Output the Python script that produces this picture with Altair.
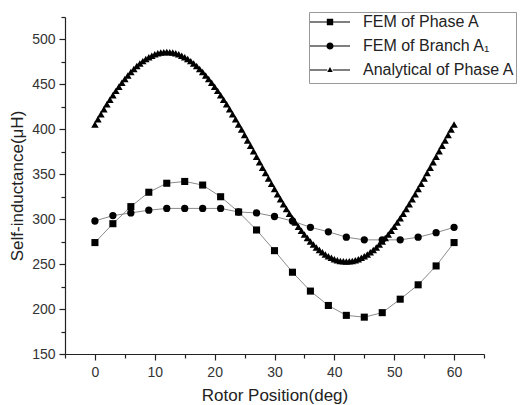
import altair as alt
import pandas as pd

# ---- data ----
fem_angle = [0, 3, 6, 9, 12, 15, 18, 21, 24, 27, 30,
             33, 36, 39, 42, 45, 48, 51, 54, 57, 60]
fem_phase_a = [274, 295, 314, 330, 340, 342, 338, 325, 308, 288, 265,
               241, 220, 204, 193, 191, 196, 211, 227, 248, 274]
fem_branch_a1 = [298, 304, 307, 310, 312, 312, 312, 312, 308, 307, 303,
                 298, 291, 286, 280, 277, 277, 277, 280, 285, 291]

# analytical curve: one point every 0.5 deg from 0 to 60
ana_angle = [i * 0.5 for i in range(121)]
ana_phase_a = [
    405.5, 411.3, 416.9, 422.4, 427.8, 433.0, 438.0, 442.8, 447.5, 451.9,
    456.1, 460.0, 463.8, 467.2, 470.4, 473.3, 475.9, 478.3, 480.3, 482.0,
    483.5, 484.6, 485.4, 485.8, 486.0,
    485.8, 485.4, 484.6, 483.5, 482.0, 480.3, 478.3, 475.9, 473.3, 470.4,
    467.2, 463.8, 460.0, 456.1, 451.9, 447.5, 442.8, 438.0, 433.0, 427.8,
    422.4, 416.9, 411.3, 405.5, 399.7, 393.7, 387.7, 381.7, 375.6, 369.5,
    363.4, 357.3, 351.3, 345.3, 339.3, 333.5, 327.8, 322.1, 316.6, 311.3,
    306.0, 301.0, 296.2, 291.5, 287.1, 282.9, 279.0, 275.3, 271.8, 268.6,
    265.7, 263.1, 260.7, 258.7, 257.0, 255.5, 254.4, 253.6, 253.2, 253.0,
    253.2, 253.6, 254.4, 255.5, 257.0, 258.7, 260.7, 263.1, 265.7, 268.6,
    271.8, 275.3, 279.0, 282.9, 287.1, 291.5, 296.2, 301.0, 306.0, 311.3,
    316.6, 322.1, 327.8, 333.5, 339.3, 345.3, 351.3, 357.3, 363.4, 369.5,
    375.6, 381.7, 387.7, 393.7, 399.7, 405.5,
]

series_names = ["FEM of Phase A", "FEM of Branch A\u2081", "Analytical of Phase A"]

rows = []
for a, v in zip(fem_angle, fem_phase_a):
    rows.append({"angle": a, "L": v, "series": series_names[0]})
for a, v in zip(fem_angle, fem_branch_a1):
    rows.append({"angle": a, "L": v, "series": series_names[1]})
for a, v in zip(ana_angle, ana_phase_a):
    rows.append({"angle": a, "L": v, "series": series_names[2]})
df = pd.DataFrame(rows)

FONT = "Liberation Sans"

x_enc = alt.X(
    "angle:Q",
    scale=alt.Scale(domain=[-5, 65], nice=False, zero=False),
    axis=alt.Axis(
        title="Rotor Position(deg)",
        values=list(range(-5, 66, 5)),
        labelExpr="datum.value % 10 == 0 ? datum.label : ''",
        tickSize={"condition": {"test": "datum.value % 10 == 0", "value": 6}, "value": 4},
        labelPadding=5,
        titlePadding=8,
        labelFlush=False,
        labelOverlap=False,
    ),
)
y_enc = alt.Y(
    "L:Q",
    scale=alt.Scale(domain=[150, 525], nice=False, zero=False),
    axis=alt.Axis(
        title="Self-inductance(\u03bcH)",
        values=list(range(150, 526, 25)),
        labelExpr="datum.value % 50 == 0 ? datum.label : ''",
        tickSize={"condition": {"test": "datum.value % 50 == 0", "value": 6}, "value": 4},
        labelPadding=4,
        titlePadding=5,
        labelFlush=False,
        labelOverlap=False,
    ),
)

lines = alt.Chart(df).mark_line(color="#8a8a8a", strokeWidth=1).encode(
    x=x_enc, y=y_enc, detail="series:N"
)

points = alt.Chart(df).mark_point(filled=True, color="black", opacity=1).encode(
    x=x_enc,
    y=y_enc,
    shape=alt.Shape(
        "series:N",
        scale=alt.Scale(domain=series_names, range=["square", "circle", "triangle-up"]),
        legend=None,
    ),
    size=alt.Size(
        "series:N",
        scale=alt.Scale(domain=series_names, range=[50, 56, 46]),
        legend=None,
    ),
)

# legend glyphs: thin line stubs on both sides of the marker (unit = 8 px)
ext = "M-2.5,-1.05M-2.5,1.05"
def stubs(r):
    return (f"M-2.5,-0.07H-{r}V0.07H-2.5Z"
            f"M{r},-0.07H2.5V0.07H{r}Z")
path_sq = ext + stubs(0.4) + "M-0.4,-0.4H0.4V0.4H-0.4Z"
path_ci = ext + stubs(0.45) + "M0.45,0A0.45,0.45 0 1,1 -0.45,0A0.45,0.45 0 1,1 0.45,0Z"
path_tr = ext + stubs(0.34) + "M0,-0.36L0.34,0.26H-0.34Z"

legend_layer = (
    alt.Chart(df)
    .transform_filter("false")
    .mark_point(filled=True, fill="black", opacity=1)
    .encode(
        x=x_enc,
        y=y_enc,
        shape=alt.Shape(
            "series:N",
            scale=alt.Scale(domain=series_names, range=[path_sq, path_ci, path_tr]),
            legend=alt.Legend(
                title=None,
                orient="none",
                legendX=244,
                legendY=-5,
                padding=1,
                strokeColor="#999999",
                fillColor="white",
                labelFont=FONT,
                labelFontSize=16,
                labelColor="#222222",
                labelLimit=400,
                symbolSize=256,
                symbolOffset=11,
                labelOffset=24,
                rowPadding=0,
                symbolFillColor="black",
                symbolOpacity=1,
            ),
        ),
    )
)

chart = (
    alt.layer(lines, points, legend_layer)
    .resolve_scale(shape="independent", size="independent")
    .properties(
        width=419,
        height=337,
        autosize=alt.AutoSizeParams(type="none"),
        padding={"left": 57, "top": 9, "right": 36, "bottom": 50},
        background="white",
    )
    .configure_view(stroke=None)
    .configure_axis(
        grid=False,
        domainColor="#222222",
        tickColor="#222222",
        domainWidth=1.2,
        tickWidth=1.2,
        labelFont=FONT,
        labelFontSize=14,
        labelColor="#333333",
        titleFont=FONT,
        titleFontSize=17,
        titleFontWeight="normal",
        titleColor="#222222",
    )
)

chart.save("out.html", embed_options={"renderer": "svg", "actions": False})
